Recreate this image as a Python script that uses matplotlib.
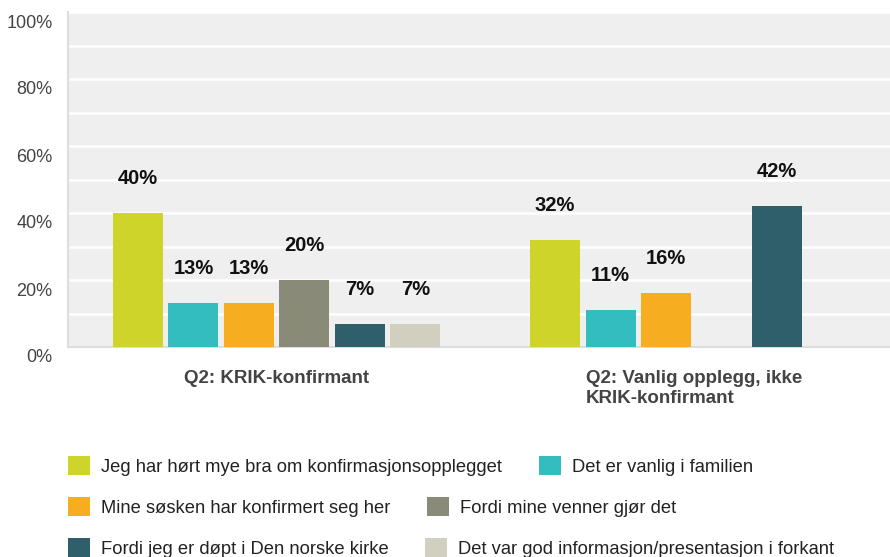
import matplotlib
matplotlib.use('Agg')
import matplotlib.pyplot as plt
import matplotlib.transforms as mtransforms
from matplotlib.patches import Patch
import numpy as np

plt.rcParams['font.family'] = ['Liberation Sans', 'DejaVu Sans']

groups = ['Q2: KRIK-konfirmant', 'Q2: Vanlig opplegg, ikke\nKRIK-konfirmant']
series = [
    'Jeg har hørt mye bra om konfirmasjonsopplegget',
    'Det er vanlig i familien',
    'Mine søsken har konfirmert seg her',
    'Fordi mine venner gjør det',
    'Fordi jeg er døpt i Den norske kirke',
    'Det var god informasjon/presentasjon i forkant',
]
# percent per series, [KRIK, vanlig]
values = [
    [40, 32],
    [13, 11],
    [13, 16],
    [20, 0],
    [7, 42],
    [7, 0],
]
colors = ['#cfd42a', '#33bdbf', '#f6ad1f', '#898a78', '#2e5f6a', '#d0cfc0']
yticks = [0, 20, 40, 60, 80, 100]

fig = plt.figure(figsize=(8.9, 5.57), dpi=100)
ax = fig.add_axes([68 / 890, 210 / 557, 1 - 68 / 890, 335 / 557])
ax.set_facecolor('#efefef')

x = np.arange(len(groups))
slot = 0.133
width = 0.12
for i, (name, vals) in enumerate(zip(series, values)):
    pos = x + (i - 2.5) * slot
    bars = ax.bar(pos, vals, width, color=colors[i], zorder=3, label=name)
    for b, v in zip(bars, vals):
        if v == 0:
            continue
        ax.annotate(f'{v}%', (b.get_x() + b.get_width() / 2, v),
                    xytext=(0, 18), textcoords='offset points',
                    ha='center', va='bottom', fontsize=14.5,
                    fontweight='bold', color='#111111')

ax.set_xlim(-0.5, 1.47)
ax.set_ylim(0, 100)
ax.set_yticks(yticks)
ax.set_yticklabels([f'{t}%' for t in yticks], fontsize=13, color='#444444')
ax.set_yticks(np.arange(0, 101, 10), minor=True)
ax.grid(axis='y', which='both', color='white', linewidth=1.8, zorder=1)
ax.tick_params(axis='y', which='both', length=0, pad=11)
off = mtransforms.ScaledTranslation(0, -0.09, fig.dpi_scale_trans)
for lab in ax.get_yticklabels():
    lab.set_transform(lab.get_transform() + off)

ax.set_xticks([])
for i, g in enumerate(groups):
    ax.text(i, -7, g, ha='center', va='top', fontsize=13.5,
            fontweight='bold', color='#444444', linespacing=1.2,
            multialignment='left', transform=ax.transData)

for s in ['top', 'right']:
    ax.spines[s].set_visible(False)
ax.spines['left'].set_color('#dddddd')
ax.spines['bottom'].set_color('#dddddd')
ax.spines['left'].set_linewidth(1.5)
ax.spines['bottom'].set_linewidth(1.5)

# legend rows (flow layout, two per row)
row_y = [466, 507, 548]
for r in range(3):
    handles = [Patch(facecolor=colors[k], edgecolor='none') for k in (2 * r, 2 * r + 1)]
    labels = [series[k] for k in (2 * r, 2 * r + 1)]
    fig.legend(handles, labels, loc='center left', ncol=2,
               bbox_to_anchor=(68 / 890, 1 - row_y[r] / 557),
               frameon=False, fontsize=13.2, borderpad=0, borderaxespad=0,
               handlelength=1.2, handleheight=1.2, handletextpad=0.6,
               columnspacing=2.0, labelcolor='#222222')

fig.savefig('out.png', dpi=100)
